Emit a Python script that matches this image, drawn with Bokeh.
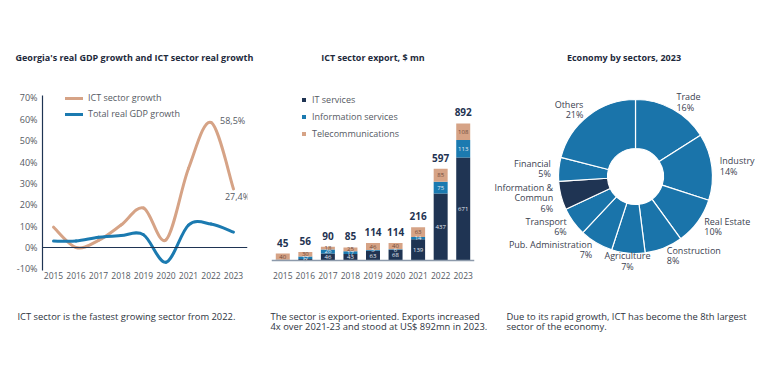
import math
from bokeh.plotting import figure
from bokeh.models import (Range1d, FactorRange, FixedTicker, PrintfTickFormatter, Span,
                          Legend, LegendItem, Title, ColumnDataSource)
from bokeh.layouts import row, column
from bokeh.embed import file_html
from bokeh.resources import INLINE
from bokeh.core.properties import value

# ---------------- data ----------------
years = [2015, 2016, 2017, 2018, 2019, 2020, 2021, 2022, 2023]
ict_growth = [9.5, 0.0, 3.3, 10.5, 18.5, 3.6, 37.0, 58.5, 27.4]
gdp_growth = [3.0, 3.0, 4.8, 5.6, 6.0, -6.9, 10.5, 11.0, 7.2]
growth_ticks = [-10, 0, 10, 20, 30, 40, 50, 60, 70]
annotated_years = [2022, 2023]

export_years = ["2015", "2016", "2017", "2018", "2019", "2020", "2021", "2022", "2023"]
it_services = [3, 9, 46, 43, 63, 68, 139, 437, 671]
info_services = [2, 17, 26, 17, 5, 6, 14, 75, 113]
telecom = [40, 30, 18, 25, 46, 40, 63, 85, 108]
export_totals = [45, 56, 90, 85, 114, 114, 216, 597, 892]

sectors = ["Trade", "Industry", "Real Estate", "Construction", "Agriculture",
           "Pub. Administration", "Transport", "Information &\nCommun", "Financial", "Others"]
sector_shares = [16, 14, 10, 8, 7, 7, 6, 6, 5, 21]
highlight_sector = "Information &\nCommun"

titles = ["Georgia's real GDP growth and ICT sector real growth",
          "ICT sector export, $ mn",
          "Economy by sectors, 2023"]
notes = [["ICT sector is the fastest growing sector from 2022."],
         ["The sector is export-oriented. Exports increased",
          "4x over 2021-23 and stood at US$ 892mn in 2023."],
         ["Due to its rapid growth, ICT has become the 8th largest",
          "sector of the economy."]]

# ---------------- style ----------------
FONT = "Open Sans"
NAVY = "#1f3453"
BLUE = "#1b7ab0"
PIE_BLUE = "#1a74aa"
SALMON = "#d6a386"
TXT = "#555a63"
TITLE_C = "#1e2a3c"
NOTE_C = "#2e3440"
TOP, BOTTOM, H = 80, 38, 308      # upper row: common frame borders
NOTE_H = 60
WIDTHS = [254, 237, 265]


def base_fig(w, h=H, **kw):
    p = figure(width=w, height=h, output_backend="svg", toolbar_location=None, **kw)
    p.outline_line_color = None
    p.background_fill_color = "white"
    p.border_fill_color = "white"
    p.grid.visible = False
    return p


def add_title(p, text, align="center", offset=0):
    p.add_layout(Title(text=text, align=align, offset=offset, text_font=FONT,
                       text_font_size="9px", text_font_style="bold", text_color=TITLE_C,
                       standoff=34), "above")


def smooth(xs, ys):
    n = len(xs)
    d = dict(x0=[], y0=[], x1=[], y1=[], cx0=[], cy0=[], cx1=[], cy1=[])
    for i in range(n - 1):
        a, b = max(i - 1, 0), min(i + 2, n - 1)
        d["x0"].append(xs[i]); d["y0"].append(ys[i])
        d["x1"].append(xs[i + 1]); d["y1"].append(ys[i + 1])
        d["cx0"].append(xs[i] + (xs[i + 1] - xs[a]) / 6)
        d["cy0"].append(ys[i] + (ys[i + 1] - ys[a]) / 6)
        d["cx1"].append(xs[i + 1] - (xs[b] - xs[i]) / 6)
        d["cy1"].append(ys[i + 1] - (ys[b] - ys[i]) / 6)
    return ColumnDataSource(d)


# ---------------- panel 1: growth lines ----------------
p1 = base_fig(WIDTHS[0], x_range=Range1d(2014.511, 2023.622), y_range=Range1d(-10.76, 78.13),
              min_border_left=42, min_border_right=7, min_border_top=TOP, min_border_bottom=BOTTOM)
add_title(p1, titles[0], align="left", offset=-27)

r_ict = p1.bezier(x0="x0", y0="y0", x1="x1", y1="y1", cx0="cx0", cy0="cy0", cx1="cx1", cy1="cy1",
                  source=smooth(years, ict_growth), line_color=SALMON, line_width=3, line_cap="round")
r_gdp = p1.bezier(x0="x0", y0="y0", x1="x1", y1="y1", cx0="cx0", cy0="cy0", cx1="cx1", cy1="cy1",
                  source=smooth(years, gdp_growth), line_color=BLUE, line_width=3, line_cap="round")
p1.add_layout(Span(location=0, dimension="width", line_color=NAVY, line_width=1.2))

ann_x = annotated_years
ann_y = [ict_growth[years.index(y)] for y in ann_x]
ann_t = [("%.1f" % v).replace(".", ",") + "%" for v in ann_y]
p1.text(x=ann_x[:1], y=ann_y[:1], text=ann_t[:1], x_offset=9, y_offset=-2, text_align="left",
        text_baseline="middle", text_font=value(FONT), text_font_size="9px", text_color=TXT)
p1.text(x=ann_x[1:], y=ann_y[1:], text=ann_t[1:], x_offset=4, y_offset=8, text_align="center",
        text_baseline="middle", text_font=value(FONT), text_font_size="9px", text_color=TXT)

p1.xaxis.ticker = FixedTicker(ticks=years)
p1.xaxis.axis_line_color = None
p1.yaxis.ticker = FixedTicker(ticks=growth_ticks)
p1.yaxis.formatter = PrintfTickFormatter(format="%d%%")
p1.yaxis.bounds = (-10.76, 71.1)
p1.yaxis.axis_line_color = NAVY
p1.yaxis.axis_line_width = 1.2
p1.yaxis.major_label_standoff = 5
p1.xaxis.major_label_standoff = 1
for ax in (p1.xaxis, p1.yaxis):
    ax.major_tick_line_color = None
    ax.minor_tick_line_color = None
    ax.major_tick_out = 0
    ax.major_tick_in = 0
    ax.major_label_text_font = FONT
    ax.major_label_text_color = TXT
p1.xaxis.major_label_text_font_size = "8.5px"
p1.yaxis.major_label_text_font_size = "9px"

leg1 = Legend(items=[LegendItem(label="ICT sector growth", renderers=[r_ict]),
                     LegendItem(label="Total real GDP growth", renderers=[r_gdp])],
              location=(21, 148), glyph_width=18, glyph_height=12, label_height=12,
              label_standoff=5, spacing=3, padding=2, margin=0, border_line_alpha=0,
              background_fill_alpha=0, label_text_font=FONT, label_text_font_size="9px",
              label_text_color=TXT)
p1.add_layout(leg1)

# ---------------- panel 2: stacked export bars ----------------
p2 = base_fig(WIDTHS[1], x_range=FactorRange(factors=export_years), y_range=Range1d(-65.1, 1171.9),
              min_border_left=17, min_border_right=WIDTHS[1] - 220,
              min_border_top=TOP, min_border_bottom=BOTTOM)
add_title(p2, titles[1])

src2 = ColumnDataSource(dict(year=export_years, it=it_services, info=info_services, tel=telecom))
stack_names = ["it", "info", "tel"]
stack_colors = [NAVY, BLUE, SALMON]
bars = p2.vbar_stack(stack_names, x="year", width=0.62, color=stack_colors, source=src2,
                     line_color=None)
p2.add_layout(Span(location=0, dimension="width", line_color="#8d9aab", line_width=1.5))

seg_x, seg_y, seg_t, seg_c = [], [], [], []
for i, yr in enumerate(export_years):
    bottom = 0
    for vals, col in ((it_services, "#e6ebf2"), (info_services, "#e6ebf2"), (telecom, "#6e4a3a")):
        v = vals[i]
        if v >= 5:
            seg_x.append(yr); seg_y.append(bottom + v / 2); seg_t.append(str(v)); seg_c.append(col)
        bottom += v
p2.text(x=seg_x, y=seg_y, text=seg_t, text_color=seg_c, text_align="center",
        text_baseline="middle", text_font=value(FONT), text_font_size="6px")
p2.text(x=export_years, y=export_totals, text=[str(t) for t in export_totals], y_offset=-11,
        text_align="center", text_baseline="middle", text_font=value(FONT),
        text_font_size="10px", text_font_style="bold", text_color=NAVY)

p2.yaxis.visible = False
p2.xaxis.axis_line_color = None
p2.xaxis.major_tick_line_color = None
p2.xaxis.minor_tick_line_color = None
p2.xaxis.major_tick_out = 0
p2.xaxis.major_label_standoff = 1
p2.xaxis.major_label_text_font = FONT
p2.xaxis.major_label_text_font_size = "8.5px"
p2.xaxis.major_label_text_color = TXT

leg2 = Legend(items=[LegendItem(label="IT services", renderers=[bars[0]]),
                     LegendItem(label="Information services", renderers=[bars[1]]),
                     LegendItem(label="Telecommunications", renderers=[bars[2]])],
              location=(27, 127), glyph_width=5, glyph_height=5, label_height=14,
              label_standoff=6, spacing=3, padding=3, margin=0, border_line_alpha=0,
              background_fill_alpha=0, label_text_font=FONT, label_text_font_size="9px",
              label_text_color=TXT)
p2.add_layout(leg2)

# ---------------- panel 3: donut ----------------
p3 = base_fig(WIDTHS[2], x_range=Range1d(0, WIDTHS[2]), y_range=Range1d(0, H - TOP - BOTTOM),
              min_border_left=0, min_border_right=0, min_border_top=TOP, min_border_bottom=BOTTOM,
              x_axis_type=None, y_axis_type=None)
add_title(p3, titles[2])

cx, cy, r_in, r_out, r_lab = 144, 94, 28, 77, 85
total = sum(sector_shares)
starts, ends, colors, lx, ly, lt, la = [], [], [], [], [], [], []
cum = 0
for name, share in zip(sectors, sector_shares):
    a0 = cum / total * 2 * math.pi
    cum += share
    a1 = cum / total * 2 * math.pi
    starts.append(math.pi / 2 - a0)
    ends.append(math.pi / 2 - a1)
    colors.append(NAVY if name == highlight_sector else PIE_BLUE)
    mid = (a0 + a1) / 2
    s = math.sin(mid)
    lx.append(cx + r_lab * s)
    ly.append(cy + r_lab * math.cos(mid))
    lt.append("%s\n%d%%" % (name, share))
    la.append("left" if s > 0.15 else ("right" if s < -0.15 else "center"))

src3 = ColumnDataSource(dict(start=starts, end=ends, color=colors, lx=lx, ly=ly, lt=lt, la=la))
p3.annular_wedge(x=cx, y=cy, inner_radius=r_in, outer_radius=r_out, start_angle="start",
                 end_angle="end", direction="clock", fill_color="color", line_color="white",
                 line_width=1.2, source=src3)
p3.text(x="lx", y="ly", text="lt", text_align="la", text_baseline="middle", source=src3,
        text_font=value(FONT), text_font_size="9px", text_color="#3b4250", text_line_height=0.8)

# ---------------- notes row ----------------
note_figs = []
note_left = [17, 16, 15]
for w, lines, x0 in zip(WIDTHS, notes, note_left):
    n = base_fig(w, h=NOTE_H, x_range=Range1d(0, w), y_range=Range1d(0, NOTE_H),
                 min_border_left=0, min_border_right=0, min_border_top=0, min_border_bottom=0,
                 x_axis_type=None, y_axis_type=None)
    n.text(x=[x0] * len(lines), y=[52.3 - 10.4 * i for i in range(len(lines))], text=lines,
           text_align="left", text_baseline="middle", text_font=value(FONT),
           text_font_size="9.4px", text_color=NOTE_C)
    note_figs.append(n)

layout = column(row(p1, p2, p3, spacing=0), row(*note_figs, spacing=0), spacing=0)
open("out.html", "w").write(file_html(layout, INLINE))
